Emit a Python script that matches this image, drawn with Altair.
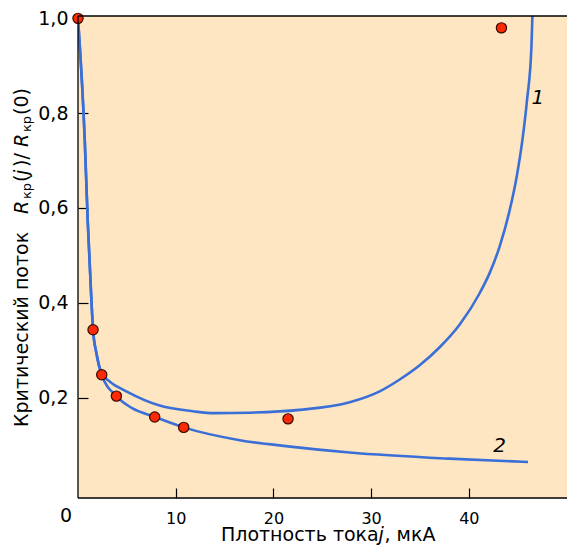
import altair as alt
import pandas as pd

# measured points: current density j (mkA), relative critical flux
pt_j = [0.0, 1.54, 2.43, 3.93, 7.85, 10.82, 21.5, 43.34]
pt_r = [1.0, 0.343, 0.248, 0.203, 0.159, 0.137, 0.155, 0.980]

# curve 1 (upper, rising to asymptote)
c1_j = [0.0, 0.69, 0.99, 1.37, 1.54, 1.88, 2.43, 3.3, 4.95, 8.36, 11.77, 14.0,
        17.58, 22.69, 27.81, 30.88, 32.93, 34.97, 37.02, 39.07, 41.11, 42.14,
        43.16, 44.18, 44.90, 45.49, 45.96, 46.41, 46.51]
c1_r = [1.0, 0.744, 0.575, 0.406, 0.343, 0.294, 0.250, 0.233, 0.213, 0.183, 0.171, 0.167,
        0.168, 0.174, 0.190, 0.213, 0.238, 0.268, 0.306, 0.354, 0.420, 0.463,
        0.519, 0.595, 0.666, 0.744, 0.828, 0.940, 1.005]

# curve 2 (lower, decaying)
c2_j = [0.0, 0.69, 0.99, 1.37, 1.54, 1.88, 2.43, 3.93, 5.5, 7.85, 10.82, 16.55,
        21.5, 27.8, 38.0, 46.06]
c2_r = [1.0, 0.744, 0.575, 0.406, 0.343, 0.294, 0.248, 0.203, 0.178, 0.159, 0.137, 0.110,
        0.097, 0.084, 0.071, 0.064]

curve_labels = ["1", "2"]
curve_label_j = [47.08, 43.16]
curve_label_r = [0.832, 0.097]

x_ticks = [10, 20, 30, 40]
y_ticks = [0.2, 0.4, 0.6, 0.8, 1.0]

W, H = 489, 482
FONT = "DejaVu Sans"
BLUE = "#3b6fd8"

pts = pd.DataFrame({"j": pt_j, "r": pt_r})
curves = pd.concat([
    pd.DataFrame({"j": c1_j, "r": c1_r, "curve": "1", "idx": range(len(c1_j))}),
    pd.DataFrame({"j": c2_j, "r": c2_r, "curve": "2", "idx": range(len(c2_j))}),
])
labs = pd.DataFrame({"j": curve_label_j, "r": curve_label_r, "t": curve_labels})
one = pd.DataFrame({"a": [1]})

x_enc = alt.X("j:Q", scale=alt.Scale(domain=[0, 50.05], nice=False, zero=False),
              axis=alt.Axis(values=x_ticks, format="d", title=None, grid=False, domain=False,
                            offset=-10, tickSize=10, tickColor="black", tickWidth=1.2,
                            labelFont=FONT, labelFontSize=16, labelColor="black",
                            labelPadding=12))
y_enc = alt.Y("r:Q", scale=alt.Scale(domain=[-0.012, 1.005], nice=False, zero=False),
              axis=alt.Axis(values=y_ticks, title=None, grid=False, domain=False,
                            labelExpr="replace(format(datum.value, '.1f'), '.', ',')",
                            offset=-10, tickSize=10, tickColor="black", tickWidth=1.2,
                            tickOpacity={"condition": {"test": "datum.value > 0.99", "value": 0}, "value": 1},
                            labelFont=FONT, labelFontSize=19, labelColor="black",
                            labelPadding=10))

lines = alt.Chart(curves).mark_line(interpolate="monotone", color=BLUE, strokeWidth=2.6,
                                    clip=True).encode(
    x=x_enc, y=y_enc, detail="curve:N", order="idx:Q")

points = alt.Chart(pts).mark_point(filled=True, shape="circle", size=105, fill="#fb2a06",
                                   stroke="#3a0800", strokeWidth=1.2, opacity=1).encode(
    x=x_enc, y=y_enc)

clabels = alt.Chart(labs).mark_text(font=FONT, fontSize=20, fontStyle="italic", color="black",
                                    align="center", baseline="middle").encode(
    x=x_enc, y=y_enc, text="t:N")

zero_lab = alt.Chart(pd.DataFrame({"j": [0], "t": ["0"]})).mark_text(
    font=FONT, fontSize=19, color="black", align="center", baseline="alphabetic", dx=-12).encode(
    x=x_enc, y=alt.value(506.3), text="t:N")


def rule(**kw):
    return alt.Chart(one).mark_rule(color="black", strokeWidth=1.3).encode(
        **{k: alt.value(v) for k, v in kw.items()})


def txt(s, xp, yp, size, italic=False, angle=0):
    return alt.Chart(one).mark_text(text=s, font=FONT, fontSize=size,
                                    fontStyle="italic" if italic else "normal",
                                    angle=angle, align="left", baseline="alphabetic",
                                    color="black").encode(x=alt.value(xp), y=alt.value(yp))


borders = [rule(x=0, x2=W, y=0), rule(x=0, y=0, y2=H), rule(x=0, x2=W, y=H)]

BX, SX = -50.3, -47.5
ytitle = [
    txt("Критический поток", BX, 411, 19, angle=270),
    txt("R", BX, 198, 19, italic=True, angle=270),
    txt("кр", SX, 183, 13, angle=270),
    txt("(", BX, 166, 19, angle=270),
    txt("j", BX, 159, 19, italic=True, angle=270),
    txt(")/", BX, 151, 19, angle=270),
    txt("R", BX, 131, 19, italic=True, angle=270),
    txt("кр", SX, 116, 13, angle=270),
    txt("(0)", BX, 99, 19, angle=270),
]
XT = 525
xtitle = [
    txt("Плотность тока", 143.0, XT, 19),
    txt("j", 300.5, XT, 19, italic=True),
    txt(", мкА", 306.5, XT, 19),
]

chart = alt.layer(lines, points, clabels, zero_lab, *borders, *ytitle, *xtitle).properties(
    width=W, height=H,
    autosize=alt.AutoSizeParams(type="none"),
    padding={"left": 70, "top": 8, "right": 0, "bottom": 48},
    background="white",
).configure_view(stroke=None, fill="#fde6c1")

chart.save("out.html", embed_options={"renderer": "svg", "actions": False})
